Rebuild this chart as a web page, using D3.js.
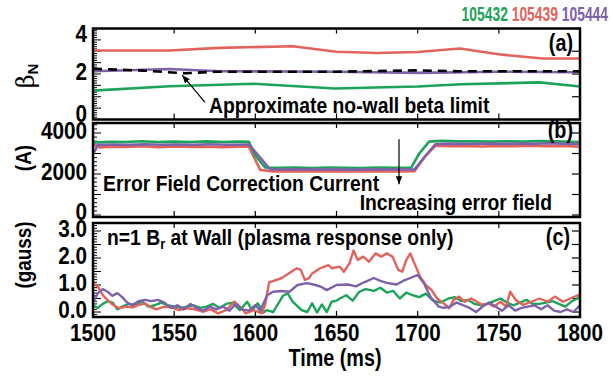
<!DOCTYPE html>
<html>
<head>
<meta charset="utf-8">
<script src="https://cdn.jsdelivr.net/npm/d3@7"></script>
<style>
  html, body { margin: 0; padding: 0; background: #fff; }
  svg text { font-family: "Liberation Sans", Arial, sans-serif; font-weight: bold; fill: #000; }
</style>
</head>
<body>
<svg id="chart" width="613" height="378"></svg>
<script>
// Shot numbers and colours
const shots = ["105432", "105439", "105444"];
const shotColors = ["#1ba359", "#e2625c", "#7d61aa"];

// Time axis
const timeTicks = [1500, 1550, 1600, 1650, 1700, 1750, 1800];

// (a) normalized beta, [time ms, betaN]
const betaGreen = [[1500,1.27],[1547,1.46],[1599,1.57],[1649,1.36],[1680,1.42],[1700,1.45],[1727,1.55],[1775,1.63],[1800,1.45]];
const betaRed = [[1500,3.03],[1547,3.03],[1578,3.15],[1623,3.22],[1650,2.98],[1675,2.92],[1700,2.97],[1726,3.12],[1752,2.85],[1777,2.68],[1800,2.68]];
const betaPurple = [[1500,2.12],[1547,2.22],[1578,2.12],[1650,2.1],[1700,2.05],[1750,2.1],[1800,2.08]];
const betaLimit = [[1500,2.23],[1531,2.15],[1557,2.03],[1575,2.1],[1650,2.1],[1700,2.16],[1725,2.12],[1800,2.12]];
const betaTicks = [0, 2, 4];

// (b) error field correction current, [time ms, A]
const iGreen = [[1500,3530],[1510,3570],[1520,3560],[1530,3600],[1540,3560],[1550,3580],[1560,3560],[1570,3590],[1580,3560],[1590,3580],[1596,3570],[1600,2900],[1606,2320],[1615,2300],[1625,2310],[1635,2290],[1645,2320],[1655,2300],[1665,2290],[1675,2310],[1685,2300],[1696,2310],[1701,3000],[1707,3580],[1715,3620],[1725,3590],[1735,3600],[1745,3580],[1755,3600],[1765,3580],[1775,3610],[1785,3590],[1800,3560]];
const iRed = [[1500,3450],[1504,3300],[1512,3330],[1520,3320],[1530,3350],[1540,3310],[1550,3340],[1560,3320],[1570,3330],[1580,3310],[1590,3330],[1596,3330],[1603,2200],[1610,2130],[1620,2140],[1630,2120],[1640,2140],[1650,2130],[1660,2120],[1670,2140],[1680,2130],[1690,2120],[1698,2140],[1705,2900],[1711,3380],[1720,3350],[1730,3370],[1740,3340],[1750,3370],[1760,3350],[1770,3380],[1780,3360],[1790,3370],[1800,3330]];
const iPurple = [[1500,2950],[1503,3420],[1512,3440],[1522,3420],[1532,3450],[1542,3430],[1552,3440],[1562,3420],[1572,3450],[1582,3430],[1596,3440],[1603,2800],[1609,2230],[1620,2220],[1630,2240],[1640,2220],[1650,2230],[1660,2210],[1670,2230],[1680,2220],[1690,2230],[1698,2220],[1705,2900],[1711,3460],[1720,3480],[1730,3460],[1740,3490],[1750,3470],[1760,3490],[1770,3470],[1780,3500],[1790,3480],[1800,3470]];
const currentTicks = [0, 2000, 4000];

// (c) n=1 radial field at the wall, [time ms, gauss]
const brRed = [[1500,1.06],[1503,0.94],[1506,0.63],[1509,0.44],[1512.5,0.26],[1516,0.14],[1520,0.2],[1524.5,0.17],[1528,0.26],[1532,0.32],[1535,0.2],[1539,0.1],[1544,0.2],[1548.5,0.17],[1553,0.07],[1558,0.14],[1563,0.1],[1568,0.01],[1572.5,0.1],[1577,-0.05],[1582,0.07],[1587,0.38],[1590.5,0.2],[1594,-0.05],[1599,0.07],[1604,-0.05],[1606,0.26],[1608.5,1.1],[1616,1.25],[1620.5,1.43],[1625.5,1.62],[1628,1.56],[1630.5,1.19],[1633,1.25],[1635,1.43],[1640,1.62],[1645,1.74],[1647,1.62],[1652,1.68],[1654.5,1.49],[1658,1.8],[1660.5,2.28],[1663,1.93],[1666.5,2.05],[1670,1.86],[1674,2.17],[1677.5,2.05],[1681,2.17],[1684.5,2.05],[1688,1.56],[1690.5,1.49],[1693,1.93],[1695.5,2.17],[1698,1.8],[1701.5,1.31],[1705,1.0],[1708.5,0.82],[1712,0.5],[1716,0.32],[1719.5,0.14],[1722,0.44],[1725.5,0.57],[1729,0.38],[1733,0.5],[1736.5,0.38],[1740,0.26],[1743.5,0.32],[1747,0.2],[1751,0.38],[1754.5,0.2],[1757,0.75],[1760.5,0.44],[1765,0.26],[1770,0.38],[1775,0.5],[1780,0.38],[1784.5,0.57],[1789.5,0.38],[1794,0.5],[1800,0.65]];
const brPurple = [[1500,0.35],[1503,0.7],[1506,0.85],[1509,0.75],[1512,0.6],[1515,0.7],[1518,0.55],[1521,0.35],[1524,0.25],[1528,0.4],[1532,0.45],[1536,0.4],[1540,0.45],[1544,0.35],[1548,0.15],[1552,0.25],[1556,0.1],[1560,0.3],[1564,0.15],[1568,0.05],[1572,0.2],[1576,0.1],[1580,0.2],[1584,0.05],[1588,0.3],[1592,0.1],[1596,0.05],[1600,0.25],[1603,0.05],[1606,0.45],[1607.5,0.63],[1611,0.75],[1616,0.78],[1621,0.75],[1626,1.0],[1632,1.07],[1637,1.0],[1641,0.92],[1644,0.81],[1650,1.0],[1657,1.02],[1662,0.95],[1667,1.1],[1673,1.26],[1677,1.15],[1681,1.08],[1687,1.02],[1691,1.15],[1695,1.25],[1700,1.37],[1704,1.05],[1708,0.55],[1713,0.2],[1716,0.15],[1720,0.2],[1724,0.35],[1728,0.25],[1732,0.15],[1736,0.0],[1740,0.2],[1744,0.35],[1748,0.2],[1752,0.05],[1756,0.25],[1760,0.05],[1764,0.15],[1768,0.2],[1772,0.25],[1776,0.1],[1780,0.25],[1784,0.05],[1788,0.0],[1792,0.1],[1796,0.0],[1800,0.25]];
const brGreen = [[1500,0.25],[1503,0.15],[1506,0.3],[1509,0.4],[1512,0.35],[1515,0.1],[1518,0.2],[1522,0.3],[1526,0.25],[1530,0.4],[1534,0.2],[1538,0.25],[1542,0.35],[1546,0.25],[1550,0.2],[1554,0.15],[1558,0.2],[1562,0.25],[1566,0.15],[1570,0.2],[1574,0.3],[1578,0.15],[1582,0.3],[1586,0.35],[1590.5,0.07],[1595,0.38],[1598,0.07],[1601.5,0.32],[1605,-0.02],[1607,0.07],[1611,0.0],[1617,0.6],[1620,0.69],[1623,0.38],[1628.5,0.07],[1632,0.0],[1635,0.32],[1638,-0.02],[1641,0.28],[1644,0.0],[1647,0.38],[1650,0.42],[1652,0.5],[1656,0.62],[1660,0.42],[1664,0.75],[1668,0.85],[1673,0.78],[1677,0.9],[1681,0.72],[1685,0.78],[1689,0.5],[1693,0.72],[1697,0.62],[1701,0.55],[1705,0.68],[1709.5,0.42],[1714,0.35],[1719,0.5],[1723,0.55],[1727,0.4],[1731,0.45],[1735,0.3],[1739,0.25],[1743,0.3],[1747,0.4],[1751,0.5],[1755,0.35],[1759,0.25],[1763,0.35],[1767,0.45],[1771,0.3],[1775,0.3],[1779,0.35],[1783,0.4],[1787,0.3],[1791,0.2],[1795,0.4],[1800,0.55]];
const brTicks = [0, 1, 2, 3];

const svg = d3.select("#chart");
const left = 93, right = 580;
const x = d3.scaleLinear().domain([1500, 1800]).range([left, right]);

// Text squeezed horizontally around its anchor point
function label(parent, px, py, str, size, anchor = "start", rotate = 0, sx = 0.86) {
  const g = parent.append("g")
    .attr("transform", `translate(${px},${py}) rotate(${rotate}) scale(${sx},1)`);
  const t = g.append("text").attr("text-anchor", anchor).style("font-size", size + "px");
  if (str !== null) t.text(str);
  return t;
}

const panels = [
  { key: "a", top: 28.5, bottom: 119.5, y: d3.scaleLinear().domain([0, 4]).range([119.5, 28.5]),
    minor: 0.1, major: 0.5, rmajor: 1, labels: betaTicks, fmt: d3.format("d") },
  { key: "b", top: 123, bottom: 217, y: d3.scaleLinear().domain([0, 4000]).range([215, 133]),
    minor: 200, major: 1000, rmajor: 1000, labels: currentTicks, fmt: d3.format("d") },
  { key: "c", top: 223, bottom: 317, y: d3.scaleLinear().domain([0, 3]).range([312, 231]),
    minor: 0.1, major: 0.5, rmajor: 0.5, labels: brTicks, fmt: d3.format(".1f") }
];

const line = (y) => d3.line().x(d => x(d[0])).y(d => y(d[1]));

panels.forEach(p => {
  const g = svg.append("g").attr("class", "panel-" + p.key);
  const d0 = p.y.invert(p.bottom), d1 = p.y.invert(p.top);
  const minorVals = d3.range(Math.ceil(d0 / p.minor), Math.floor(d1 / p.minor) + 1).map(k => k * p.minor);
  const rVals = d3.range(Math.ceil(d0 / p.rmajor), Math.floor(d1 / p.rmajor) + 1).map(k => k * p.rmajor);
  const isMajor = d => Math.abs(d / p.major - Math.round(d / p.major)) < 1e-6;

  // left edge: dense comb of minor ticks, longer majors
  g.append("g").selectAll("line").data(minorVals).join("line")
    .attr("x1", left).attr("x2", d => left + (isMajor(d) ? 8 : 4))
    .attr("y1", d => p.y(d)).attr("y2", d => p.y(d))
    .attr("stroke", "#000").attr("stroke-width", 1);
  // right edge: majors only
  g.append("g").selectAll("line").data(rVals).join("line")
    .attr("x1", right).attr("x2", right - 8)
    .attr("y1", d => p.y(d)).attr("y2", d => p.y(d))
    .attr("stroke", "#000").attr("stroke-width", 1.2);
  // time ticks on the top and bottom edges
  g.append("g").selectAll("line").data(timeTicks).join("line")
    .attr("x1", d => x(d)).attr("x2", d => x(d))
    .attr("y1", p.top).attr("y2", p.top + 5)
    .attr("stroke", "#000").attr("stroke-width", 1.2);
  g.append("g").selectAll("line").data(timeTicks).join("line")
    .attr("x1", d => x(d)).attr("x2", d => x(d))
    .attr("y1", p.bottom).attr("y2", p.bottom - 6)
    .attr("stroke", "#000").attr("stroke-width", 1.2);

  // tick labels, kept inside the panel's height
  p.labels.forEach(v => {
    const cy = Math.max(p.top + 5.5, Math.min(p.bottom - 5.5, p.y(v) - 2));
    label(g, 87, cy + 8.2, p.fmt(v), 23, "end", 0, 0.9);
  });
  p.g = g;
});

const pa = panels[0], pb = panels[1], pc = panels[2];

// (a) curves
[[betaGreen, 0], [betaRed, 1], [betaPurple, 2]].forEach(([d, i]) => {
  pa.g.append("path").datum(d).attr("d", line(pa.y))
    .attr("fill", "none").attr("stroke", shotColors[i]).attr("stroke-width", 2.6);
});
pa.g.append("path").datum(betaLimit).attr("d", line(pa.y))
  .attr("fill", "none").attr("stroke", "#000").attr("stroke-width", 2.6)
  .attr("stroke-dasharray", "9,6");

// (b) curves
[[iRed, 1], [iGreen, 0], [iPurple, 2]].forEach(([d, i]) => {
  pb.g.append("path").datum(d).attr("d", line(pb.y))
    .attr("fill", "none").attr("stroke", shotColors[i]).attr("stroke-width", 2.6)
    .attr("stroke-linejoin", "round");
});

// (c) curves
[[brGreen, 0], [brRed, 1], [brPurple, 2]].forEach(([d, i]) => {
  pc.g.append("path").datum(d).attr("d", line(pc.y))
    .attr("fill", "none").attr("stroke", shotColors[i]).attr("stroke-width", 2.4)
    .attr("stroke-linejoin", "round");
});

// frames
panels.forEach(p => {
  svg.append("rect").attr("x", left).attr("y", p.top)
    .attr("width", right - left).attr("height", p.bottom - p.top)
    .attr("fill", "none").attr("stroke", "#000").attr("stroke-width", 2.5);
});

// shot legend
const legend = label(svg, 608, 21, null, 21, "end", 0, 0.66);
shots.forEach((s, i) => {
  legend.append("tspan").style("fill", shotColors[i]).text((i ? " " : "") + s);
});

// panel letters
label(svg, 573, 51, "(a)", 23, "end");
label(svg, 573, 138, "(b)", 23, "end");
label(svg, 570, 245, "(c)", 23, "end");

// y titles
const tb = svg.append("g").attr("transform", "translate(34,76) rotate(-90)")
  .append("text").attr("text-anchor", "middle");
tb.append("tspan").style("font-family", "'DejaVu Serif', serif").style("font-weight", "normal")
  .style("font-size", "24px").text("β");
tb.append("tspan").attr("dy", "4").style("font-size", "15px").text("N");
label(svg, 31, 158, "(A)", 22, "middle", -90);
label(svg, 31, 255, "(gauss)", 22, "middle", -90);

// annotations
svg.append("defs").append("marker").attr("id", "head").attr("viewBox", "0 0 10 10")
  .attr("refX", 10).attr("refY", 5).attr("markerWidth", 8).attr("markerHeight", 8)
  .attr("orient", "auto").attr("markerUnits", "userSpaceOnUse")
  .append("path").attr("d", "M0,1 L10,5 L0,9 Z").attr("fill", "#000");

svg.append("line")
  .attr("x1", x(1569)).attr("y1", pa.y(0.75))
  .attr("x2", x(1555)).attr("y2", pa.y(1.95))
  .attr("stroke", "#000").attr("stroke-width", 1.2).attr("marker-end", "url(#head)");
label(svg, 209, 113, "Approximate no-wall beta limit", 22.5);

label(svg, 103, 191, "Error Field Correction Current", 22.5);
label(svg, 552, 210, "Increasing error field", 22.5, "end");
svg.append("line")
  .attr("x1", x(1688.5)).attr("y1", pb.y(3700))
  .attr("x2", x(1688.5)).attr("y2", pb.y(1500))
  .attr("stroke", "#000").attr("stroke-width", 1.2).attr("marker-end", "url(#head)");

const brTitle = label(svg, 107, 245, null, 22.5);
brTitle.append("tspan").text("n=1 B");
brTitle.append("tspan").attr("dy", "4").style("font-size", "15px").text("r");
brTitle.append("tspan").attr("dy", "-4").text(" at Wall (plasma response only)");

// time axis labels
timeTicks.forEach(t => label(svg, Math.min(x(t), 582), 341, String(t), 24, "middle"));
label(svg, 335, 366, "Time (ms)", 23, "middle");
</script>
</body>
</html>
